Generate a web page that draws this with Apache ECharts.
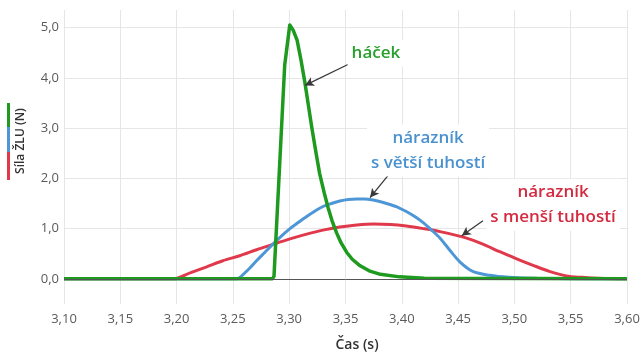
<!DOCTYPE html>
<html><head><meta charset="utf-8">
<script src="https://cdn.jsdelivr.net/npm/echarts@6/dist/echarts.min.js"></script>
<style>html,body{margin:0;padding:0;background:#fff}#c{width:643px;height:353px}</style>
</head><body><div id="c"></div>
<script>
// ---- data ----
const hacekTime  = [3.10, 3.285, 3.2865, 3.296, 3.3005, 3.3035, 3.307, 3.3105, 3.314, 3.317, 3.320, 3.3235, 3.327, 3.331, 3.3345, 3.338, 3.342, 3.346, 3.351, 3.356, 3.363, 3.371, 3.381, 3.398, 3.42, 3.60];
const hacekForce = [0, 0, 0.05, 4.25, 5.05, 4.95, 4.75, 4.35, 3.90, 3.46, 3.02, 2.55, 2.10, 1.72, 1.42, 1.16, 0.92, 0.72, 0.53, 0.39, 0.26, 0.16, 0.09, 0.04, 0.01, 0];

const vetsiTime  = [3.10, 3.253, 3.262, 3.271, 3.2785, 3.286, 3.2935, 3.3007, 3.308, 3.3155, 3.323, 3.330, 3.3375, 3.345, 3.3525, 3.360, 3.367, 3.3745, 3.382, 3.3895, 3.397, 3.404, 3.4115, 3.419, 3.426, 3.434, 3.443, 3.452, 3.463, 3.478, 3.495, 3.52, 3.60];
const vetsiForce = [0, 0, 0.15, 0.36, 0.53, 0.70, 0.86, 1.00, 1.12, 1.24, 1.35, 1.44, 1.50, 1.55, 1.58, 1.59, 1.59, 1.57, 1.53, 1.48, 1.42, 1.34, 1.24, 1.12, 0.98, 0.81, 0.56, 0.33, 0.15, 0.07, 0.03, 0.01, 0];

const mensiTime  = [3.10, 3.197, 3.212, 3.2267, 3.241, 3.256, 3.271, 3.286, 3.300, 3.3155, 3.330, 3.345, 3.360, 3.3747, 3.390, 3.404, 3.419, 3.434, 3.4576, 3.472, 3.487, 3.502, 3.5166, 3.531, 3.546, 3.560, 3.575, 3.60];
const mensiForce = [0, 0, 0.12, 0.24, 0.36, 0.46, 0.58, 0.69, 0.79, 0.89, 0.97, 1.03, 1.07, 1.09, 1.08, 1.05, 1.00, 0.94, 0.81, 0.69, 0.54, 0.40, 0.27, 0.15, 0.06, 0.03, 0.01, 0];

const xAxisName = 'Čas (s)';
const yAxisName = 'Síla ŽLU (N)';
const labelHacek = 'háček';
const labelVetsi = 'nárazník\ns větší tuhostí';
const labelMensi = 'nárazník\ns menší tuhostí';

// ---- layout / style ----
const FONT = '"Open Sans", "Noto Sans", sans-serif';
const GREEN = '#1e9a1e', BLUE = '#4e97d6', RED = '#e0394b';
const GREEN_T = '#27a02c', BLUE_T = '#4a92cf', RED_T = '#d42a40';

function pairs(t, f) { return t.map((v, i) => [v, f[i]]); }
function fmtNum(v, d) { return v.toFixed(d).replace('.', ','); }

const chart = echarts.init(document.getElementById('c'));

// annotation anchors in data coordinates [time, force]
const annHacek = [3.377, 4.49];
const annVetsi = [3.4233, 2.555];
const annMensi = [3.5343, 1.477];
const arrowHacek = [[3.354, 4.285], [3.314, 3.85]];
const arrowVetsi = [[3.3877, 2.056], [3.3718, 1.617]];
const arrowMensi = [[3.4721, 1.158], [3.4532, 0.858]];

function arrow(a) {
  return [{ coord: a[0], symbol: 'none' }, { coord: a[1], symbol: 'arrow' }];
}

chart.setOption({
  animation: false,
  backgroundColor: '#fff',
  grid: { left: 64, right: 16, top: 10, bottom: 49 },
  xAxis: {
    type: 'value', min: 3.10, max: 3.60, interval: 0.05,
    axisLine: { show: false }, axisTick: { show: false },
    axisLabel: { formatter: v => fmtNum(v, 2), color: '#5a5a5a', fontSize: 13, fontFamily: FONT, margin: 9 },
    splitLine: { show: true, lineStyle: { color: '#e6e6e6', width: 1 } }
  },
  yAxis: {
    type: 'value', min: -0.5, max: 5.35, interval: 0.5,
    axisLine: { show: false }, axisTick: { show: false },
    axisLabel: {
      formatter: v => (Math.abs(v - Math.round(v)) < 1e-6 ? fmtNum(v, 1) : ''),
      color: '#5a5a5a', fontSize: 13, fontFamily: FONT, margin: 5,
      showMaxLabel: false
    },
    splitLine: { show: true, lineStyle: { color: ['rgba(0,0,0,0)', '#e6e6e6'], width: 1 } }
  },
  series: [
    {
      type: 'line', name: 'mensi', data: pairs(mensiTime, mensiForce),
      showSymbol: false, symbol: 'none', smooth: 0.3, z: 2,
      lineStyle: { color: RED, width: 3 },
      markLine: {
        silent: true, symbol: 'none', label: { show: false },
        lineStyle: { color: '#555', width: 1, type: 'solid' },
        data: [{ yAxis: 0 }]
      }
    },
    {
      type: 'line', name: 'vetsi', data: pairs(vetsiTime, vetsiForce),
      showSymbol: false, symbol: 'none', smooth: 0.3, z: 3,
      lineStyle: { color: BLUE, width: 3 }
    },
    {
      type: 'line', name: 'hacek', data: pairs(hacekTime, hacekForce),
      showSymbol: false, symbol: 'none', smooth: false, z: 4,
      lineStyle: { color: GREEN, width: 3.5, join: 'round' }
    },
    {
      type: 'line', name: 'arrows', data: [], z: 6,
      markLine: {
        silent: true, symbolSize: [7, 9], label: { show: false },
        lineStyle: { color: '#3a3a3a', width: 1.3, type: 'solid' },
        data: [arrow(arrowHacek), arrow(arrowVetsi), arrow(arrowMensi)]
      }
    }
  ]
});

function px(p) { return chart.convertToPixel({ gridIndex: 0 }, p); }
const pH = px(annHacek), pV = px(annVetsi), pM = px(annMensi);

function annText(p, text, color) {
  return {
    type: 'text', x: p[0], y: p[1], z: 10,
    style: {
      text: text, fill: color, font: '600 17px ' + FONT,
      align: 'center', verticalAlign: 'middle', lineHeight: 25,
      backgroundColor: '#fff', padding: [1, 4]
    }
  };
}

chart.setOption({
  graphic: [
    annText(pH, labelHacek, GREEN_T),
    annText(pV, labelVetsi, BLUE_T),
    annText(pM, labelMensi, RED_T),
    {
      type: 'text', x: 357, y: 345, z: 10,
      style: { text: xAxisName, fill: '#333', font: '600 14px ' + FONT, align: 'center', verticalAlign: 'middle' }
    },
    {
      type: 'text', x: 21, y: 141, rotation: Math.PI / 2, z: 10,
      style: { text: yAxisName, fill: '#333', font: '600 12px ' + FONT, align: 'center', verticalAlign: 'middle' }
    },
    { type: 'rect', shape: { x: 7, y: 103, width: 3, height: 24 }, style: { fill: GREEN } },
    { type: 'rect', shape: { x: 7, y: 127, width: 3, height: 25 }, style: { fill: BLUE } },
    { type: 'rect', shape: { x: 7, y: 152, width: 3, height: 28 }, style: { fill: RED } }
  ]
});
</script>
</body></html>
